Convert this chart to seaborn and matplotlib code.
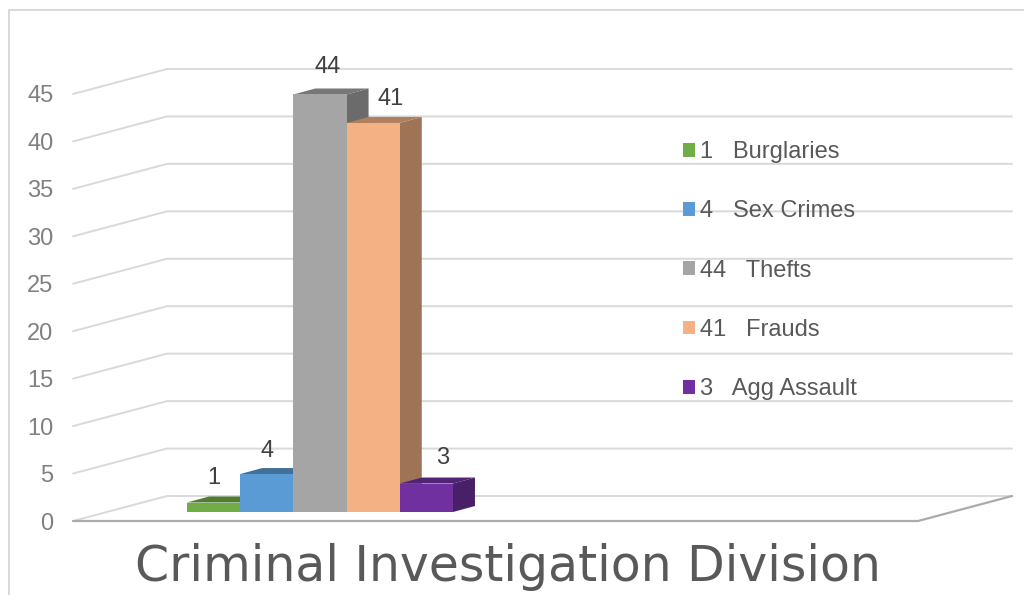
import pandas as pd
import seaborn as sns
import matplotlib.pyplot as plt
from matplotlib import transforms
from matplotlib.lines import Line2D
from matplotlib.patches import Polygon, Patch, Rectangle
from matplotlib.colors import to_rgb

division = ["Criminal Investigation Division"]
crimes = ["Burglaries", "Sex Crimes", "Thefts", "Frauds", "Agg Assault"]
counts = [1, 4, 44, 41, 3]
colors = ["#70AD47", "#5B9BD5", "#A5A5A5", "#F4B183", "#7030A0"]
y_ticks = [0, 5, 10, 15, 20, 25, 30, 35, 40, 45]

# pixel offsets used to fake the 3D look (back wall, bar plane, bar depth)
WALL = (94, 25)
BAR_SHIFT = (34, 9)
BAR_DEPTH = (22, 6)
label_offsets = [(0, 25), (0, 23), (8, 27), (17, 24), (16, 26)]

df = pd.DataFrame({"division": division * len(crimes), "crime": crimes, "count": counts})

sns.set_style("white")
plt.rcParams['font.family'] = ['Liberation Sans', 'DejaVu Sans']

fig = plt.figure(figsize=(10.24, 5.95), dpi=100)
ax = fig.add_axes([73 / 1024, 1 - 521 / 595, 845 / 1024, 427 / 595])
sns.barplot(data=df, x="division", y="count", hue="crime", hue_order=crimes,
            palette=colors, saturation=1, width=0.8, legend=False, linewidth=0, ax=ax)

ax.set_xlim(-0.6406, 1.901)
ax.set_ylim(0, 45)
ax.set_xticks([])
ax.set_xlabel("")
ax.set_ylabel("")
ax.set_yticks(y_ticks)
ax.tick_params(axis='y', length=0, pad=14, labelsize=17, labelcolor='#808080')
for s in ax.spines.values():
    s.set_visible(False)
ax.patch.set_alpha(0)

ident = transforms.IdentityTransform()
x0, x1 = ax.get_xlim()

# back wall gridlines with the slanted side wall part
for v in y_ticks:
    (px, py), (qx, qy) = ax.transData.transform([(x0, v), (x1, v)])
    ax.add_line(Line2D([px, px + WALL[0], qx + WALL[0]], [py, py + WALL[1], qy + WALL[1]],
                       transform=ident, color='#D9D9D9', lw=1.4, clip_on=False, zorder=1))
# floor front edge
(px, py), (qx, qy) = ax.transData.transform([(x0, 0), (x1, 0)])
ax.add_line(Line2D([px, qx, qx + WALL[0]], [py, qy, qy + WALL[1]],
                   transform=ident, color='#ABABAB', lw=1.6, clip_on=False, zorder=2))


def shade(c, f):
    return tuple(ch * f for ch in to_rgb(c))


bar_tf = ax.transData + transforms.Affine2D().translate(*BAR_SHIFT)
for i, (cont, c) in enumerate(zip(ax.containers, colors)):
    bar = cont.patches[0]
    bar.set_transform(bar_tf)
    bar.set_zorder(5 + 2 * i)
    bar.set_clip_on(False)
    x, w, h = bar.get_x(), bar.get_width(), bar.get_height()
    (lx, by), (rx, ty) = bar_tf.transform([(x, 0), (x + w, h)])
    dx, dy = BAR_DEPTH
    top = Polygon([(lx, ty), (rx, ty), (rx + dx, ty + dy), (lx + dx, ty + dy)],
                  transform=ident, facecolor=shade(c, 0.72), edgecolor='none',
                  clip_on=False, zorder=4 + 2 * i)
    side = Polygon([(rx, by), (rx, ty), (rx + dx, ty + dy), (rx + dx, by + dy)],
                   transform=ident, facecolor=shade(c, 0.65), edgecolor='none',
                   clip_on=False, zorder=4 + 2 * i)
    ax.add_patch(top)
    ax.add_patch(side)
    ax.annotate(f"{h:g}", xy=(x + w / 2, h), xycoords=bar_tf,
                xytext=label_offsets[i], textcoords='offset pixels',
                ha='center', va='center', fontsize=17, color='#404040', zorder=20)

handles = [Patch(facecolor=c, edgecolor='none') for c in colors]
labels = [f"{v}   {n}" for v, n in zip(counts, crimes)]
fig.legend(handles, labels, loc='upper left', bbox_to_anchor=(683 / 1024, 1 - 141 / 595),
           frameon=False, fontsize=17, labelcolor='#595959', handlelength=0.52,
           handleheight=0.52, handletextpad=0.22, labelspacing=1.58,
           borderpad=0, borderaxespad=0)

title = fig.text(507.5 / 1024, 1 - 581 / 595, division[0], ha='center', va='baseline',
                 fontsize=40, color='#595959', family='DejaVu Sans')
fig.canvas.draw()
tw = title.get_window_extent().width
title.set_fontsize(40 * 745 / tw)

fig.add_artist(Rectangle((9 / 1024, -0.1), 1.1, 1 - 10 / 595 + 0.1, transform=fig.transFigure,
                         fill=False, edgecolor='#D9D9D9', lw=1.4))

fig.savefig('out.png', dpi=100)
